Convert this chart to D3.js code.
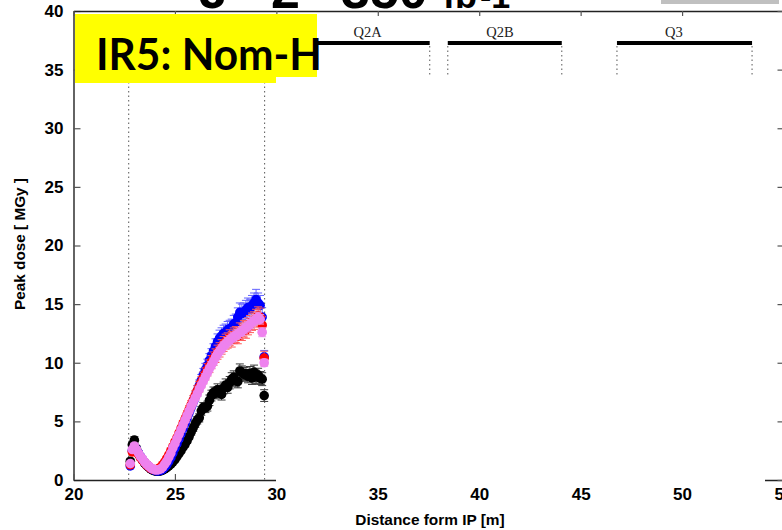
<!DOCTYPE html>
<html>
<head>
<meta charset="utf-8">
<script src="https://cdn.jsdelivr.net/npm/d3@7"></script>
<style>
  html, body { margin: 0; padding: 0; background: #fff; }
  svg { display: block; }
</style>
</head>
<body>
<svg id="chart" width="782" height="530"></svg>
<script>
// Peak dose along the IR5 triplet region, four configurations.
const distance = [
  22.8, 22.9, 23.0, 23.1, 23.2, 23.3, 23.4, 23.5, 23.6, 23.7,
  23.8, 23.9, 24.0, 24.1, 24.2, 24.3, 24.4, 24.5, 24.6, 24.7,
  24.8, 24.9, 25.0, 25.1, 25.2, 25.3, 25.4, 25.5, 25.6, 25.7,
  25.8, 25.9, 26.0, 26.1, 26.2, 26.3, 26.4, 26.5, 26.6, 26.7,
  26.8, 26.9, 27.0, 27.1, 27.2, 27.3, 27.4, 27.5, 27.6, 27.7,
  27.8, 27.9, 28.0, 28.1, 28.2, 28.3, 28.4, 28.5, 28.6, 28.7,
  28.8, 28.9, 29.0, 29.1, 29.2, 29.3, 29.4
];

const doseBlack = [
  1.6, 3.0, 3.4, 2.7, 2.3, 1.95, 1.7, 1.45, 1.25, 1.1,
  0.95, 0.85, 0.78, 0.74, 0.74, 0.78, 0.85, 0.95, 1.05, 1.2,
  1.35, 1.55, 1.75, 2.0, 2.25, 2.5, 2.8, 3.05, 3.35, 3.7,
  4.1, 4.45, 4.8, 5.1, 5.3, 5.9, 6.2, 6.15, 6.3, 6.8,
  7.2, 7.45, 7.4, 7.7, 7.55, 7.3, 7.85, 8.1, 7.9, 8.3,
  8.6, 8.75, 8.5, 8.4, 9.3, 9.15, 9.0, 9.05, 8.85, 9.1,
  8.7, 9.2, 8.8, 8.95, 8.7, 8.6, 7.2
];
const errBlack = [
  0.2, 0.3, 0.3, 0.2, 0.15, 0.12, 0.1, 0.1, 0.08, 0.08,
  0.07, 0.06, 0.06, 0.05, 0.05, 0.06, 0.06, 0.07, 0.08, 0.09,
  0.1, 0.12, 0.13, 0.15, 0.16, 0.18, 0.2, 0.22, 0.24, 0.26,
  0.28, 0.3, 0.32, 0.33, 0.35, 0.38, 0.4, 0.4, 0.42, 0.45,
  0.46, 0.48, 0.48, 0.5, 0.5, 0.48, 0.5, 0.52, 0.5, 0.53,
  0.55, 0.56, 0.55, 0.54, 0.6, 0.58, 0.58, 0.58, 0.56, 0.58,
  0.55, 0.6, 0.56, 0.58, 0.55, 0.55, 0.5
];

const doseBlue = [
  1.2, 2.5, 2.8, 2.6, 2.3, 2.0, 1.75, 1.5, 1.3, 1.15,
  1.0, 0.9, 0.82, 0.78, 0.78, 0.82, 0.92, 1.1, 1.3, 1.6,
  1.9, 2.3, 2.7, 3.1, 3.5, 3.95, 4.4, 4.85, 5.3, 5.75,
  6.2, 6.65, 7.1, 7.6, 8.05, 8.5, 9.0, 9.4, 9.75, 10.2,
  10.6, 11.0, 11.4, 11.8, 12.1, 12.3, 12.5, 12.6, 12.8, 12.9,
  13.0, 13.3, 13.4, 13.9, 14.3, 14.2, 14.3, 14.5, 14.7, 14.6,
  14.9, 15.1, 15.4, 15.1, 14.9, 13.9, 10.5
];
const errBlue = [
  0.15, 0.25, 0.28, 0.25, 0.2, 0.18, 0.15, 0.12, 0.1, 0.1,
  0.08, 0.07, 0.07, 0.06, 0.06, 0.07, 0.07, 0.08, 0.1, 0.12,
  0.14, 0.16, 0.18, 0.2, 0.22, 0.25, 0.28, 0.3, 0.32, 0.35,
  0.38, 0.4, 0.42, 0.45, 0.48, 0.5, 0.52, 0.55, 0.56, 0.58,
  0.6, 0.62, 0.64, 0.66, 0.68, 0.68, 0.7, 0.7, 0.72, 0.72,
  0.72, 0.74, 0.75, 0.78, 0.8, 0.8, 0.8, 0.82, 0.82, 0.82,
  0.84, 0.85, 0.86, 0.85, 0.84, 0.8, 0.55
];

const doseRed = [
  1.3, 2.4, 2.8, 2.5, 2.2, 1.9, 1.7, 1.5, 1.3, 1.15,
  1.0, 0.92, 0.88, 0.9, 0.98, 1.1, 1.3, 1.55, 1.85, 2.15,
  2.5, 2.85, 3.25, 3.6, 4.0, 4.4, 4.8, 5.2, 5.6, 6.0,
  6.4, 6.8, 7.2, 7.6, 7.95, 8.35, 8.7, 9.05, 9.4, 9.7,
  10.05, 10.35, 10.6, 10.9, 11.1, 11.35, 11.6, 11.8, 11.9, 12.15,
  12.0, 12.3, 12.4, 12.3, 12.7, 12.6, 12.9, 12.8, 13.1, 13.3,
  13.5, 13.6, 13.8, 14.0, 13.9, 13.2, 10.4
];
const errRed = [
  0.15, 0.24, 0.26, 0.24, 0.2, 0.17, 0.14, 0.12, 0.1, 0.09,
  0.08, 0.07, 0.07, 0.07, 0.07, 0.08, 0.09, 0.1, 0.12, 0.14,
  0.16, 0.18, 0.2, 0.22, 0.24, 0.27, 0.29, 0.31, 0.33, 0.35,
  0.37, 0.39, 0.41, 0.43, 0.45, 0.47, 0.49, 0.51, 0.52, 0.54,
  0.56, 0.57, 0.58, 0.6, 0.61, 0.62, 0.63, 0.64, 0.65, 0.66,
  0.66, 0.67, 0.68, 0.68, 0.7, 0.7, 0.71, 0.71, 0.72, 0.73,
  0.74, 0.75, 0.76, 0.77, 0.76, 0.72, 0.58
];

const doseViolet = [
  1.4, 2.6, 2.9, 2.6, 2.3, 2.0, 1.8, 1.55, 1.35, 1.2,
  1.05, 0.95, 0.88, 0.85, 0.88, 0.95, 1.1, 1.35, 1.6, 1.95,
  2.3, 2.75, 3.1, 3.5, 3.9, 4.3, 4.7, 5.1, 5.5, 5.9,
  6.3, 6.65, 7.0, 7.35, 7.75, 8.1, 8.45, 8.8, 9.15, 9.5,
  9.8, 10.1, 10.45, 10.75, 11.0, 11.2, 11.45, 11.6, 11.8, 11.95,
  12.1, 12.2, 12.35, 12.45, 12.6, 12.7, 12.85, 13.0, 13.1, 13.3,
  13.45, 13.6, 13.7, 13.9, 13.7, 12.6, 10.0
];
const errViolet = [
  0.1, 0.15, 0.15, 0.14, 0.12, 0.1, 0.09, 0.08, 0.07, 0.06,
  0.05, 0.05, 0.04, 0.04, 0.04, 0.05, 0.05, 0.06, 0.07, 0.08,
  0.09, 0.1, 0.11, 0.12, 0.13, 0.14, 0.16, 0.17, 0.18, 0.19,
  0.2, 0.21, 0.22, 0.23, 0.24, 0.25, 0.26, 0.27, 0.28, 0.29,
  0.3, 0.3, 0.31, 0.32, 0.32, 0.33, 0.33, 0.34, 0.34, 0.35,
  0.35, 0.36, 0.36, 0.37, 0.37, 0.38, 0.38, 0.38, 0.39, 0.39,
  0.4, 0.4, 0.4, 0.41, 0.4, 0.38, 0.3
];

// Magnet layout along the beam line [m]; Q1 sits under the tag box
const magnetNames = ["Q1", "Q2A", "Q2B", "Q3"];
const magnetStart = [22.72, 31.55, 38.45, 46.79];
const magnetEnd = [29.42, 37.56, 44.07, 53.45];
const magnetLabelAt = [null, 34.5, 41.02, 49.6];

const xTicks = [20, 25, 30, 35, 40, 45, 50, 55];
const yTicks = [0, 5, 10, 15, 20, 25, 30, 35, 40];

const series = [
  { name: "black", dose: doseBlack, err: errBlack, fill: "#000000", bar: "#3a3a3a" },
  { name: "blue", dose: doseBlue, err: errBlue, fill: "#0000ff", bar: "#6262ff" },
  { name: "red", dose: doseRed, err: errRed, fill: "#ff0000", bar: "#ff5a5a" },
  { name: "violet", dose: doseViolet, err: errViolet, fill: "#ee82ee", bar: "#e7a3e7" }
];

const svg = d3.select("#chart");
const frame = { left: 73.5, right: 783.5, top: 11, bottom: 480 };

const x = d3.scaleLinear().domain([20, 55]).range([frame.left, frame.right]);
const y = d3.scaleLinear().domain([0, 40]).range([frame.bottom, frame.top]);

const sans = "'Liberation Sans', Arial, Helvetica, sans-serif";

// Title line (runs above the frame, only its lower edge shows)
const title = svg.append("text")
  .attr("y", 8)
  .attr("font-family", sans).attr("font-weight", "bold").attr("font-size", 52)
  .attr("fill", "#000");
title.append("tspan").attr("x", 199).text("J");
title.append("tspan").attr("x", 271).text("2");
title.append("tspan").attr("x", 341).text("350");
title.append("tspan").attr("x", 443).attr("font-size", 36).text("fb");
title.append("tspan").attr("x", 480).attr("font-size", 34).text("-1");

svg.append("rect")
  .attr("x", 661).attr("y", 0).attr("width", 118).attr("height", 4)
  .attr("fill", "#c0c0c0");

// Axes with inward ticks
const axLeft = svg.append("g").attr("transform", `translate(${frame.left},0)`)
  .call(d3.axisLeft(y).tickValues(yTicks).tickSizeInner(-7).tickSizeOuter(0).tickPadding(10));
const axBottom = svg.append("g").attr("transform", `translate(0,${frame.bottom})`)
  .call(d3.axisBottom(x).tickValues(xTicks).tickSizeInner(-6).tickSizeOuter(0).tickPadding(8));
const axTop = svg.append("g").attr("transform", `translate(0,${frame.top})`)
  .call(d3.axisTop(x).tickValues(xTicks).tickSizeInner(-5).tickSizeOuter(0).tickFormat(""));
const axRight = svg.append("g").attr("transform", `translate(${frame.right},0)`)
  .call(d3.axisRight(y).tickValues(yTicks).tickSizeInner(-6).tickSizeOuter(0).tickFormat(""));

[axLeft, axBottom, axTop, axRight].forEach(g => {
  g.select(".domain").attr("stroke", "#222").attr("stroke-width", 1.4);
  g.selectAll(".tick line").attr("stroke", "#555").attr("stroke-width", 1.2);
  g.selectAll(".tick text")
    .attr("font-family", sans).attr("font-weight", "bold").attr("font-size", 17)
    .attr("fill", "#000");
});

svg.append("text")
  .attr("x", 430).attr("y", 525)
  .attr("text-anchor", "middle")
  .attr("font-family", sans).attr("font-weight", "bold").attr("font-size", 15.4)
  .text("Distance form IP [m]");

svg.append("text")
  .attr("transform", `translate(25,244) rotate(-90)`)
  .attr("text-anchor", "middle")
  .attr("font-family", sans).attr("font-weight", "bold").attr("font-size", 15.3)
  .text("Peak dose [ MGy ]");

// Magnet bars with dotted edges down to the axis
const magnets = magnetNames.map((n, i) => ({
  name: n, x0: magnetStart[i], x1: magnetEnd[i], lx: magnetLabelAt[i]
}));
const mg = svg.append("g");
magnets.forEach(m => {
  [m.x0, m.x1].forEach(v => {
    mg.append("line")
      .attr("x1", x(v)).attr("x2", x(v))
      .attr("y1", 46).attr("y2", frame.bottom)
      .attr("stroke", "#666").attr("stroke-width", 1.1)
      .attr("stroke-dasharray", "1.5,3");
  });
  mg.append("line")
    .attr("x1", x(m.x0)).attr("x2", x(m.x1))
    .attr("y1", 43).attr("y2", 43)
    .attr("stroke", "#000").attr("stroke-width", 4);
  if (m.lx !== null) {
    mg.append("text")
      .attr("x", x(m.lx)).attr("y", 37)
      .attr("text-anchor", "middle")
      .attr("font-family", "'Liberation Serif', 'Times New Roman', serif")
      .attr("font-size", 14.5).attr("fill", "#222")
      .text(m.name);
  }
});

// Points with error bars
const plot = svg.append("g");
series.forEach(s => {
  const pts = distance.map((d, i) => ({ d, v: s.dose[i], e: s.err[i] }));
  const g = plot.append("g");
  const eb = g.selectAll("g.eb").data(pts).join("g")
    .attr("stroke", s.bar).attr("stroke-width", 1);
  eb.append("line")
    .attr("x1", p => x(p.d)).attr("x2", p => x(p.d))
    .attr("y1", p => y(p.v - p.e)).attr("y2", p => y(p.v + p.e));
  eb.append("line")
    .attr("x1", p => x(p.d) - 4).attr("x2", p => x(p.d) + 4)
    .attr("y1", p => y(p.v + p.e)).attr("y2", p => y(p.v + p.e));
  eb.append("line")
    .attr("x1", p => x(p.d) - 4).attr("x2", p => x(p.d) + 4)
    .attr("y1", p => y(p.v - p.e)).attr("y2", p => y(p.v - p.e));
  g.selectAll("circle").data(pts).join("circle")
    .attr("cx", p => x(p.d)).attr("cy", p => y(p.v))
    .attr("r", 4.8).attr("fill", s.fill);
});

// Blank panel over the downstream part of the plot
svg.append("rect")
  .attr("x", 276).attr("y", 77).attr("width", 489).attr("height", 408)
  .attr("fill", "#fff");

// Configuration tag
svg.append("rect").attr("x", 75).attr("y", 14).attr("width", 201).attr("height", 69).attr("fill", "#ffff00");
svg.append("rect").attr("x", 75).attr("y", 14).attr("width", 242).attr("height", 63).attr("fill", "#ffff00");
svg.append("text")
  .attr("x", 96).attr("y", 70)
  .attr("font-family", "Lato, 'Open Sans', sans-serif").attr("font-weight", "bold")
  .attr("font-size", 44)
  .attr("textLength", 226).attr("lengthAdjust", "spacingAndGlyphs")
  .attr("fill", "#000")
  .text("IR5: Nom-H");
</script>
</body>
</html>
